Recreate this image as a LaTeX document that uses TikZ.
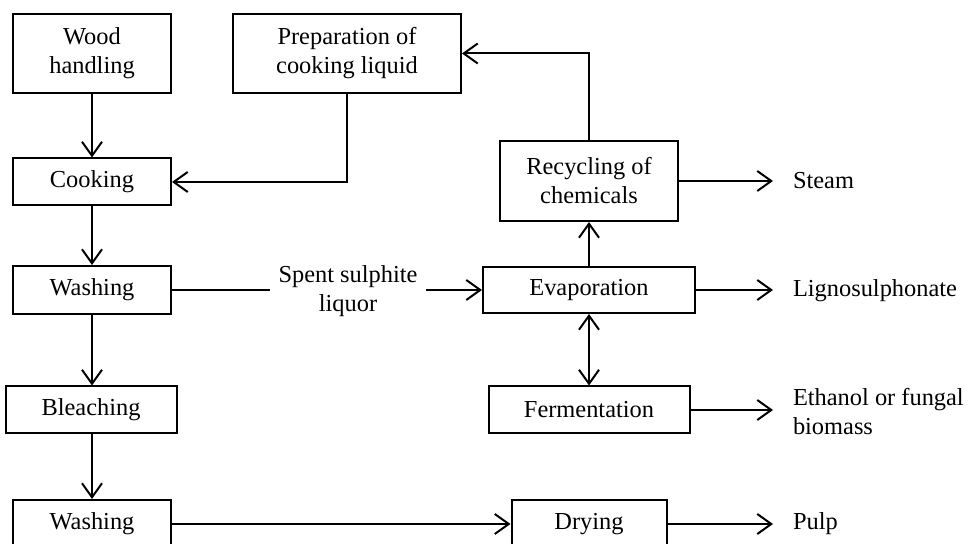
\documentclass[tikz,border=0pt]{standalone}
\usepackage{fontspec}
\setmainfont{Liberation Serif}
\usetikzlibrary{arrows.meta}

\begin{document}
\begin{tikzpicture}[x=0.5pt, y=-0.5pt,
    font=\fontsize{12.2}{14.5}\selectfont,
    every path/.style={line width=1pt},
    box/.style={draw, line width=1pt, align=center, inner sep=0pt},
    product/.style={anchor=west, align=left, inner xsep=9.5pt, inner ysep=0pt},
    flow/.style={-{Straight Barb[length=7pt, width=10pt]}},
    both/.style={{Straight Barb[length=7pt, width=10pt]}-{Straight Barb[length=7pt, width=10pt]}}]
 \useasboundingbox (0,0) rectangle (970,544);

 % pulp line
 \node[box, minimum width=79pt, minimum height=39.5pt] (wood) at (92,53.5) {Wood\\handling};
 \node[box, minimum width=79pt, minimum height=23.5pt] (cook) at (92,182) {Cooking};
 \node[box, minimum width=79pt, minimum height=24pt] (washA) at (92,290) {Washing};
 \node[box, minimum width=85.5pt, minimum height=23.5pt] (bleach) at (91,410) {Bleaching};
 \node[box, minimum width=79pt, minimum height=24pt] (washB) at (92,524) {Washing};
 \node[box, minimum width=77.5pt, minimum height=24pt] (dry) at (589,524) {Drying};

 % liquor line
 \node[box, minimum width=114pt, minimum height=39.5pt] (prep) at (347,53.5) {Preparation of\\cooking liquid};
 \node[box, minimum width=89pt, minimum height=40pt] (recyc) at (589,181) {Recycling of\\chemicals};
 \node[box, minimum width=106pt, minimum height=23pt] (evap) at (589,290) {Evaporation};
 \node[box, minimum width=100.5pt, minimum height=23.5pt] (ferm) at (589,410) {Fermentation};
 \node[align=center, inner xsep=4pt, inner ysep=0pt] (spent) at (348,291) {Spent sulphite\\liquor};

 % products
 \node[product] (steam) at (773,181) {Steam};
 \node[product] (ligno) at (773,291) {Lignosulphonate};
 \node[product] (eth) at (773,412) {Ethanol or fungal\\biomass};
 \node[product] (pulp) at (773,524) {Pulp};

 \draw[flow] (wood) -- (cook);
 \draw[flow] (cook) -- (washA);
 \draw[flow] (washA.south) -- (washA.south |- bleach.north);
 \draw[flow] (washA.south |- bleach.south) -- (washB.north);
 \draw[flow] (washB.east) -- (dry.west);
 \draw[flow] (dry.east) -- (pulp.west);

 \draw[flow] (prep.south) |- (cook.east);
 \draw (washA.east) -- (washA.east -| spent.west);
 \draw[flow] (spent.east |- evap.west) -- (evap.west);
 \draw[flow] (evap) -- (recyc);
 \draw[flow] (recyc.north) |- (prep.east);
 \draw[both] (evap) -- (ferm);

 \draw[flow] (recyc.east) -- (steam.west);
 \draw[flow] (evap.east) -- (evap.east -| ligno.west);
 \draw[flow] (ferm.east) -- (ferm.east -| eth.west);
\end{tikzpicture}
\end{document}
